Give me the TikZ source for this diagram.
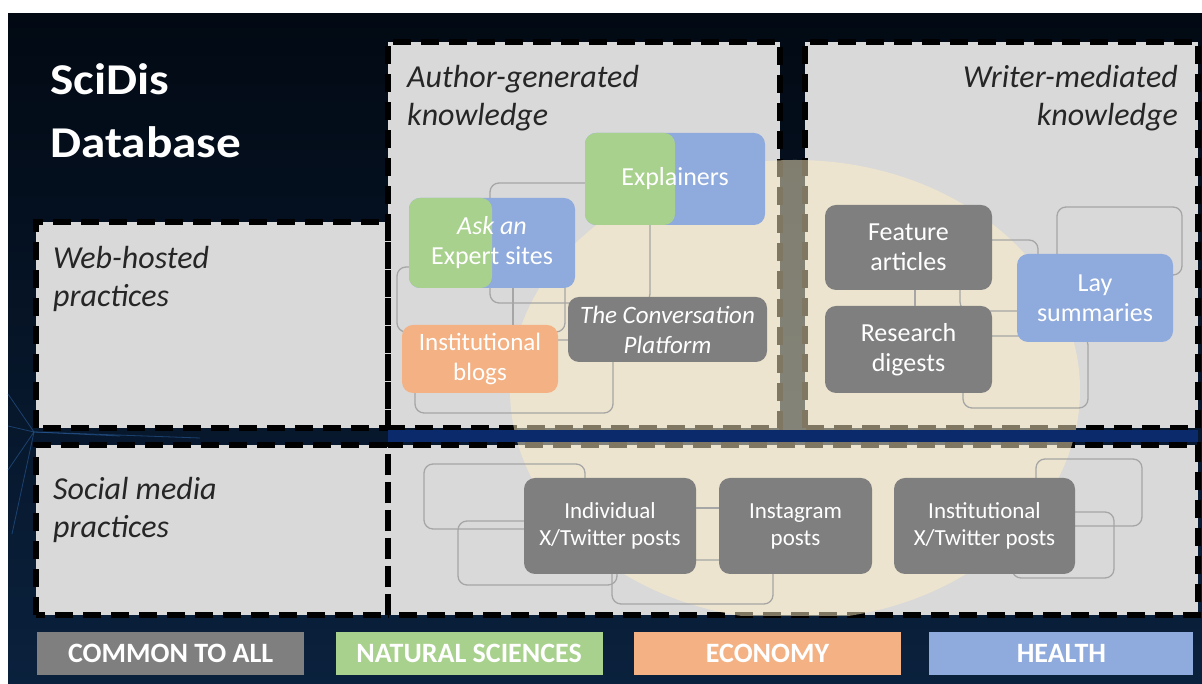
\documentclass[tikz,border=0pt]{standalone}
\usepackage{fontspec}
\setmainfont{Carlito}
\usetikzlibrary{positioning}
\definecolor{bgdark}{HTML}{020913}
\definecolor{bgnavy}{HTML}{0A213D}
\definecolor{bandnavy}{HTML}{0B2A6B}
\definecolor{panelg}{HTML}{D9D9D9}
\definecolor{commong}{HTML}{7F7F7F}
\definecolor{natgreen}{HTML}{A9D18E}
\definecolor{econorange}{HTML}{F4B183}
\definecolor{healthblue}{HTML}{8FAADC}
\definecolor{glow}{HTML}{FFEFC4}
\definecolor{ghostg}{HTML}{A6A6A6}
\definecolor{lbltext}{HTML}{262626}
\definecolor{netblue}{HTML}{2A5C9A}
\tikzset{
  panel/.style={fill=panelg, inner sep=0pt},
  frame/.style={draw=black, line width=6.5pt, dash pattern=on 18pt off 10pt},
  card/.style={rounded corners=11pt, text=white, align=center, inner sep=0pt, font=\fontsize{26}{30}\selectfont},
  allcard/.style={card, fill=commong},
  econcard/.style={card, fill=econorange},
  healthcard/.style={card, fill=healthblue},
  mixcard/.style={card, fill=healthblue,
    path picture={\fill[natgreen] (path picture bounding box.south west) rectangle (path picture bounding box.north);}},
  postcard/.style={allcard, font=\fontsize{23}{27}\selectfont, minimum height=96pt},
  ghost/.style={draw=ghostg, line width=1.3pt, rounded corners=9pt},
  net/.style={draw=netblue, line width=0.8pt, opacity=0.6},
  lbl/.style={font=\fontsize{32}{38}\selectfont\itshape, text=lbltext, inner sep=0pt},
  legendbox/.style={minimum width=267pt, minimum height=43pt, inner sep=0pt, text=white, font=\fontsize{28}{30}\selectfont\bfseries},
}

\begin{document}
\begin{tikzpicture}[x=1pt, y=1pt]
  \useasboundingbox (0,0) rectangle (1202,684);
  \fill[white] (0,0) rectangle (1202,684);
  \shade[top color=bgdark, bottom color=bgnavy] (8,0) rectangle (1202,670);

  % faint network in the background
  \coordinate (hub) at (34,252);
  \foreach \q in {(8,290),(8,214),(12,150),(8,258),(120,248),(200,246)}
    \draw[net] (hub) -- \q;

  % grid of practice / knowledge panels
  \node[panel, minimum width=352pt, minimum height=206pt] (web) at (212,359) {};
  \node[panel, minimum width=352pt, minimum height=170pt] (social) at (212,154) {};
  \node[panel, minimum width=392pt, minimum height=386pt] (author) at (584,449) {};
  \node[panel, minimum width=393pt, minimum height=386pt] (writer) at (1001.5,449) {};
  \node[panel, minimum width=810pt, minimum height=170pt] (feed) at (793,154) {};
  \foreach \p in {web,social,author,writer,feed}
    \draw[frame] (\p.south west) rectangle (\p.north east);

  % common ground glow
  \begin{scope}
    \clip (feed.south west) rectangle (writer.north east);
    \fill[glow, opacity=0.5] (795,294) ellipse [x radius=285pt, y radius=230pt];
  \end{scope}
  \fill[bandnavy] (author.south west |- 0,242) rectangle ([yshift=-2pt]writer.south east);

  % faint outlines behind the cards
  \draw[ghost] (490,381) rectangle (650,501);
  \draw[ghost] (397,352) rectangle (565,417);
  \draw[ghost] (415,271) rectangle (613,344);
  \draw[ghost] (1057,409) rectangle (1182,477);
  \draw[ghost] (960,373) rectangle (1038,444);
  \draw[ghost] (963,276) rectangle (1088,348);
  \draw[ghost] (424,155) rectangle (585,220);
  \draw[ghost] (458,99) rectangle (617,163);
  \draw[ghost] (612,80) rectangle (773,124);
  \draw[ghost] (1036,158) rectangle (1142,225);
  \draw[ghost] (1012,106) rectangle (1114,172);

  % author-generated
  \node[mixcard, minimum width=180pt, minimum height=92pt] (explainers) at (675,505) {Explainers};
  \node[mixcard, minimum width=166pt, minimum height=90pt] (askexpert) at (492,441) {\textit{Ask an}\\Expert sites};
  \node[econcard, minimum width=156pt, minimum height=68pt, font=\fontsize{25}{30}\selectfont] (blogs) at (480,325) {Institutional\\blogs};
  \node[allcard, minimum width=199pt, minimum height=65pt, font=\fontsize{25}{30}\selectfont\itshape] (conversation) at (667.5,354.5) {The Conversation\\Platform};
  \draw[ghost] ([xshift=21pt]askexpert.south) -- ([xshift=21pt]askexpert.south |- blogs.north);

  % writer-mediated
  \node[allcard, minimum width=167pt, minimum height=85pt] (feature) at (908.5,436.5) {Feature\\articles};
  \node[allcard, minimum width=167pt, minimum height=87pt] (digests) at (908.5,334.5) {Research\\digests};
  \node[healthcard, minimum width=156pt, minimum height=88pt] (lay) at (1095,386) {Lay\\summaries};
  \draw[ghost] ([xshift=6.5pt]feature.south) -- ([xshift=6.5pt]digests.north);

  % social media
  \node[postcard, minimum width=172pt] (indiv) at (610,158) {Individual\\X/Twitter posts};
  \node[postcard, minimum width=153pt] (insta) at (795.5,158) {Instagram\\posts};
  \node[postcard, minimum width=181pt] (instx) at (984.5,158) {Institutional\\X/Twitter posts};
  \draw[ghost] ([yshift=18pt]indiv.east) -- ([yshift=18pt]insta.west);

  % headings
  \node[anchor=north west, inner sep=0pt, text=white, align=left,
    font=\fontsize{44}{63}\selectfont\bfseries\addfontfeature{FakeStretch=1.12}] (title) at (50,621) {SciDis\\Database};
  \node[lbl, anchor=north west, align=left] (authorlbl) at (407,619) {Author-generated\\knowledge};
  \node[lbl, anchor=north east, align=right] (writerlbl) at (1178,619) {Writer-mediated\\knowledge};
  \node[lbl, anchor=north west, align=left] (weblbl) at (53,438) {Web-hosted\\practices};
  \node[lbl, anchor=north west, align=left] (sociallbl) at (53,207) {Social media\\practices};

  % legend
  \node[legendbox, fill=commong, anchor=west] (kcommon) at (37,30.5) {COMMON TO ALL};
  \node[legendbox, fill=natgreen, right=31pt of kcommon] (knat) {NATURAL SCIENCES};
  \node[legendbox, fill=econorange, right=31pt of knat] (kecon) {ECONOMY};
  \node[legendbox, fill=healthblue, minimum width=264pt, right=28pt of kecon] (khealth) {HEALTH};
\end{tikzpicture}
\end{document}
